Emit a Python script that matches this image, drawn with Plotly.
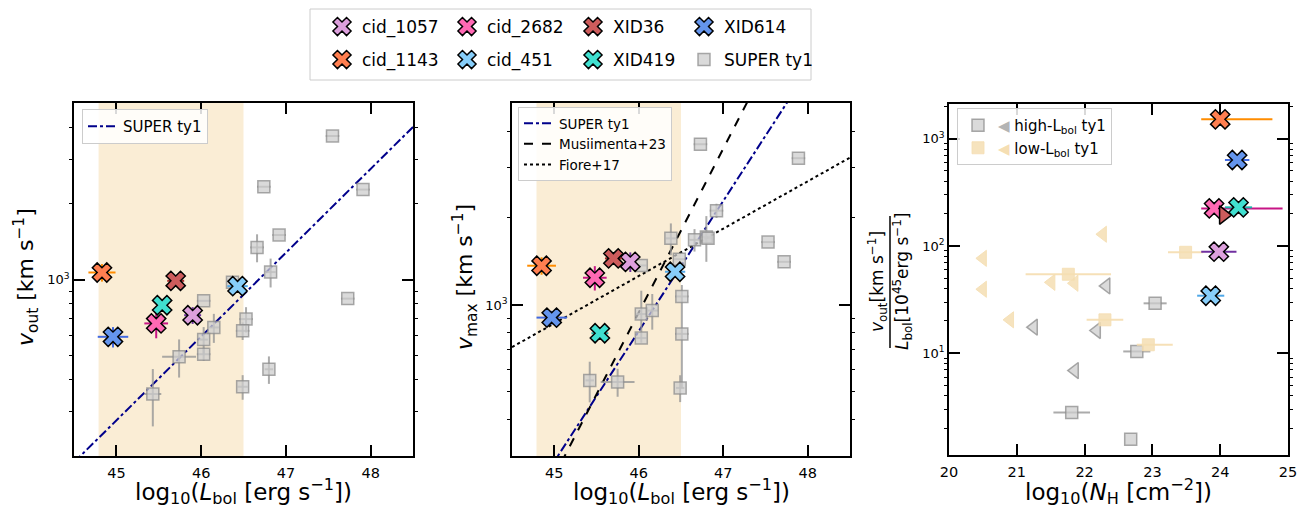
import numpy as np
import plotly.graph_objects as go

W, H = 1305, 509
FONT = "DejaVu Sans"

# ---------------- data ----------------
names = ["cid_1057", "cid_1143", "cid_2682", "cid_451", "XID36", "XID419", "XID614"]
face_colors = ["#DDA0DD", "#FF7F50", "#FF69B4", "#87CEFA", "#CD5C5C", "#40E0D0", "#6495ED"]
err_colors = ["#7030A0", "#FF8C00", "#C71585", "#4FA8E8", "#A52A2A", "#20B2AA", "#4169E1"]

# panel 1: log Lbol vs v_out
p1_x = [45.90, 44.83, 45.47, 46.43, 45.70, 45.54, 44.96]
p1_y = [722, 1066, 670, 941, 988, 791, 593]
p1_xerr = [0.10, 0.16, 0.14, 0.12, 0.10, 0.05, 0.18]
p1_yerr = [55, 85, 85, 30, 30, 0, 55]

# panel 2: log Lbol vs v_max
p2_x = [45.90, 44.85, 45.48, 46.43, 45.70, 45.54, 44.97]
p2_y = [1410, 1367, 1242, 1303, 1449, 798, 904]
p2_xerr = [0.05, 0.17, 0.14, 0.12, 0.10, 0.10, 0.18]
p2_yerr = [110, 95, 120, 30, 0, 0, 50]

# panel 3: log NH vs v_out / Lbol
p3_x = [23.98, 24.00, 23.91, 23.86, 24.05, 24.27, 24.25]
p3_y = [88.5, 1514, 224, 34.4, 194, 229, 633]
p3_xerr_plus = [0.26, 0.77, 1.01, 0.20, 0.0, 0.20, 0.18]
p3_xerr_minus = [0.26, 0.28, 0.19, 0.20, 0.0, 0.20, 0.18]
p3_symbols = ["x", "x", "x", "x", "triangle-right", "x", "x"]

# SUPER type-1 sample, panel 1
s1_x = [47.55, 46.74, 47.91, 46.92, 46.66, 46.82, 47.73, 46.03, 46.53, 46.49,
        46.15, 46.03, 46.03, 45.74, 46.80, 46.49, 45.43, 46.37]
s1_y = [3700, 2330, 2270, 1500, 1340, 1070, 840, 823, 697, 626,
        646, 578, 506, 494, 441, 376, 352, 975]
s1_xerr = [0.08, 0.08, 0.08, 0.08, 0.08, 0.06, 0.08, 0.08, 0.08, 0.08,
           0.06, 0.05, 0.08, 0.20, 0.05, 0.06, 0.10, 0.05]
s1_yerr = [0, 0, 0, 0, 170, 140, 0, 0, 80, 50,
           85, 70, 30, 85, 55, 42, 90, 0]

# SUPER type-1 sample, panel 2
s2_x = [46.73, 47.89, 46.92, 46.38, 46.66, 46.80, 47.53, 47.72, 46.48, 46.03,
        46.51, 46.03, 46.16, 46.51, 46.03, 45.42, 45.75, 46.49, 46.82]
s2_y = [3600, 3220, 2120, 1700, 1680, 1720, 1650, 1410, 1440, 1370,
        1070, 930, 956, 794, 768, 548, 541, 516, 1700]
s2_xerr = [0.08, 0.08, 0.08, 0.06, 0.06, 0.06, 0.08, 0.08, 0.06, 0.06,
           0.08, 0.06, 0.07, 0.08, 0.06, 0.05, 0.20, 0.05, 0.05]
s2_yerr_plus = [0, 0, 120, 215, 150, 310, 0, 0, 0, 0,
                0, 190, 135, 378, 0, 88, 60, 55, 0]
s2_yerr_minus = [0, 0, 120, 215, 150, 310, 0, 0, 0, 0,
                 0, 190, 135, 278, 0, 88, 60, 55, 0]

# panel 3 comparison samples
hi_sq_x = [23.04, 22.77, 21.81, 22.68]
hi_sq_y = [29.2, 10.4, 2.8, 1.58]
hi_sq_xerr = [0.17, 0.20, 0.27, 0.0]
hi_tri_x = [22.32, 21.25, 22.18, 21.855]
hi_tri_y = [42.4, 17.5, 16.3, 6.9]
lo_sq_x = [21.76, 23.49, 22.30, 22.94]
lo_sq_y = [54.5, 87.3, 20.5, 12.0]
lo_sq_xerr_plus = [0.63, 0.26, 0.27, 0.36]
lo_sq_xerr_minus = [0.63, 0.26, 0.27, 0.17]
lo_tri_x = [22.27, 20.50, 20.50, 21.51, 21.85, 20.90]
lo_tri_y = [128.6, 76.7, 39.5, 45.8, 44.9, 20.5]

# relations: log10(v) = a + b * (logL - 45)
fit_p1 = [2.442, 0.332]          # SUPER ty1 (panel 1)
fit_p2_super = [2.458, 0.451]    # SUPER ty1 (panel 2)
fit_musiimenta = [2.407, 0.567]  # Musiimenta+23
fit_fiore = [2.936, 0.164]       # Fiore+17

lum_band = [44.79, 46.50]

# ---------------- figure ----------------
fig = go.Figure()

GRAY_FACE = "rgba(205,205,205,0.75)"
GRAY_EDGE = "rgba(140,140,140,0.75)"
GRAY_ERR = "rgba(150,150,150,0.8)"
WHEAT_FACE = "rgba(245,222,179,0.85)"
WHEAT_ERR = "rgba(245,222,179,0.95)"

# shaded luminosity bands
for xr in ["x", "x2"]:
    fig.add_shape(type="rect", xref=xr, yref=("y" if xr == "x" else "y2") + " domain",
                  x0=lum_band[0], x1=lum_band[1], y0=0, y1=1,
                  fillcolor="rgba(245,222,179,0.55)", line=dict(width=0), layer="below")

lx = np.linspace(44.5, 48.5, 60)


def fit_line(p):
    return 10 ** (p[0] + p[1] * (lx - 45))


# panel 1 line
fig.add_trace(go.Scatter(x=lx, y=fit_line(fit_p1), mode="lines", name="SUPER ty1",
                         line=dict(color="#00008B", width=2, dash="dashdot"),
                         xaxis="x", yaxis="y", legend="legend9"))
# panel 2 lines
fig.add_trace(go.Scatter(x=lx, y=fit_line(fit_p2_super), mode="lines", name="SUPER ty1",
                         line=dict(color="#00008B", width=2, dash="dashdot"),
                         xaxis="x2", yaxis="y2", legend="legend10"))
fig.add_trace(go.Scatter(x=lx, y=fit_line(fit_musiimenta), mode="lines", name="Musiimenta+23",
                         line=dict(color="black", width=2, dash="dash"),
                         xaxis="x2", yaxis="y2", legend="legend10"))
fig.add_trace(go.Scatter(x=lx, y=fit_line(fit_fiore), mode="lines", name="Fiore+17",
                         line=dict(color="black", width=2, dash="dot"),
                         xaxis="x2", yaxis="y2", legend="legend10"))

# SUPER squares
fig.add_trace(go.Scatter(x=s1_x, y=s1_y, mode="markers", name="SUPER ty1",
                         marker=dict(symbol="square", size=12, color=GRAY_FACE,
                                     line=dict(color=GRAY_EDGE, width=1.5)),
                         error_x=dict(type="data", array=s1_xerr, color=GRAY_ERR, thickness=2, width=0),
                         error_y=dict(type="data", array=s1_yerr, color=GRAY_ERR, thickness=2, width=0),
                         xaxis="x", yaxis="y", legend="legend8"))
fig.add_trace(go.Scatter(x=s2_x, y=s2_y, mode="markers", name="SUPER ty1", showlegend=False,
                         marker=dict(symbol="square", size=12, color=GRAY_FACE,
                                     line=dict(color=GRAY_EDGE, width=1.5)),
                         error_x=dict(type="data", array=s2_xerr, color=GRAY_ERR, thickness=2, width=0),
                         error_y=dict(type="data", array=s2_yerr_plus, arrayminus=s2_yerr_minus,
                                      symmetric=False, color=GRAY_ERR, thickness=2, width=0),
                         xaxis="x2", yaxis="y2"))

# panel 3 comparison samples
fig.add_trace(go.Scatter(x=lo_tri_x, y=lo_tri_y, mode="markers", showlegend=False,
                         marker=dict(symbol="triangle-left", size=14, color=WHEAT_FACE,
                                     line=dict(color=WHEAT_FACE, width=1)),
                         xaxis="x3", yaxis="y3"))
fig.add_trace(go.Scatter(x=hi_tri_x, y=hi_tri_y, mode="markers", showlegend=False,
                         marker=dict(symbol="triangle-left", size=14, color=GRAY_FACE,
                                     line=dict(color=GRAY_EDGE, width=1.5)),
                         xaxis="x3", yaxis="y3"))
fig.add_trace(go.Scatter(x=hi_sq_x, y=hi_sq_y, mode="markers",
                         name='<span style="color:#b4b4b4">◀</span> high-L<sub>bol</sub> ty1',
                         marker=dict(symbol="square", size=12, color=GRAY_FACE,
                                     line=dict(color=GRAY_EDGE, width=1.5)),
                         error_x=dict(type="data", array=hi_sq_xerr, color=GRAY_ERR, thickness=2, width=0),
                         xaxis="x3", yaxis="y3", legend="legend11"))
fig.add_trace(go.Scatter(x=lo_sq_x, y=lo_sq_y, mode="markers",
                         name='<span style="color:#f5deb3">◀</span> low-L<sub>bol</sub> ty1',
                         marker=dict(symbol="square", size=12, color=WHEAT_FACE,
                                     line=dict(color=WHEAT_FACE, width=1)),
                         error_x=dict(type="data", array=lo_sq_xerr_plus, arrayminus=lo_sq_xerr_minus,
                                      symmetric=False, color=WHEAT_ERR, thickness=2, width=0),
                         xaxis="x3", yaxis="y3", legend="legend11"))

# colored targets
top_legend_ids = {"cid_1057": "legend", "cid_2682": "legend2", "XID36": "legend3", "XID614": "legend4",
                  "cid_1143": "legend5", "cid_451": "legend6", "XID419": "legend7"}
for i, n in enumerate(names):
    mk = dict(symbol="x", size=17, color=face_colors[i], line=dict(color="black", width=1.5))
    fig.add_trace(go.Scatter(x=[p1_x[i]], y=[p1_y[i]], mode="markers", name=n, marker=mk,
                             error_x=dict(type="data", array=[p1_xerr[i]], color=err_colors[i], thickness=2, width=0),
                             error_y=dict(type="data", array=[p1_yerr[i]], color=err_colors[i], thickness=2, width=0),
                             xaxis="x", yaxis="y", legend=top_legend_ids[n]))
    fig.add_trace(go.Scatter(x=[p2_x[i]], y=[p2_y[i]], mode="markers", name=n, marker=mk, showlegend=False,
                             error_x=dict(type="data", array=[p2_xerr[i]], color=err_colors[i], thickness=2, width=0),
                             error_y=dict(type="data", array=[p2_yerr[i]], color=err_colors[i], thickness=2, width=0),
                             xaxis="x2", yaxis="y2"))
    mk3 = dict(mk)
    mk3["symbol"] = p3_symbols[i]
    if p3_symbols[i] != "x":
        mk3["size"] = 16
    fig.add_trace(go.Scatter(x=[p3_x[i]], y=[p3_y[i]], mode="markers", name=n, marker=mk3, showlegend=False,
                             error_x=dict(type="data", array=[p3_xerr_plus[i]], arrayminus=[p3_xerr_minus[i]],
                                          symmetric=False, color=err_colors[i], thickness=2, width=0),
                             xaxis="x3", yaxis="y3"))

# ---------------- axes ----------------
def px_x(p):
    return p / W


def px_y(p):
    return 1 - p / H


def base_axis(**kw):
    d = dict(showline=True, linecolor="black", linewidth=1.5, mirror="ticks",
             ticks="inside", ticklen=11, tickwidth=1.8, tickcolor="black",
             showgrid=False, zeroline=False, automargin=False,
             tickfont=dict(family=FONT, size=14.5, color="black"))
    d.update(kw)
    return d


ydom = [px_y(456), px_y(103)]

minor_12 = [200, 300, 400, 500, 600, 700, 800, 900, 2000, 3000, 4000, 5000]
minor_3 = [m * d for d in [1, 10, 100, 1000] for m in range(2, 10)]
yfont = dict(family=FONT, size=13, color="black")

fig.update_layout(
    xaxis=base_axis(domain=[px_x(74), px_x(413)], range=[44.5, 48.5], tickvals=[45, 46, 47, 48],
                    anchor="y", ticklabelstandoff=3),
    yaxis=base_axis(domain=ydom, type="log", range=[np.log10(200), np.log10(5000)],
                    tickvals=[1000], ticktext=["10<sup>3</sup>"], anchor="x", tickfont=yfont,
                    minor=dict(tickmode="array", tickvals=minor_12, ticks="outside", ticklen=3,
                               tickwidth=1, tickcolor="black")),
    xaxis2=base_axis(domain=[px_x(512), px_x(850)], range=[44.5, 48.5], tickvals=[45, 46, 47, 48],
                     anchor="y2", ticklabelstandoff=3),
    yaxis2=base_axis(domain=ydom, type="log", range=[np.log10(300), np.log10(5000)],
                     tickvals=[1000], ticktext=["10<sup>3</sup>"], anchor="x2", tickfont=yfont,
                     minor=dict(tickmode="array", tickvals=minor_12, ticks="outside", ticklen=3,
                                tickwidth=1, tickcolor="black")),
    xaxis3=base_axis(domain=[px_x(949), px_x(1288)], range=[20, 25], tickvals=[20, 21, 22, 23, 24, 25],
                     anchor="y3", ticklabelstandoff=3),
    yaxis3=base_axis(domain=[px_y(455), px_y(104)], type="log", range=[0.052, 3.323],
                     tickvals=[10, 100, 1000], ticktext=["10<sup>1</sup>", "10<sup>2</sup>", "10<sup>3</sup>"],
                     anchor="x3", tickfont=yfont,
                     minor=dict(tickmode="array", tickvals=minor_3, ticks="outside", ticklen=3,
                                tickwidth=1, tickcolor="black")),
)

# ---------------- legends ----------------
def single_legend(cx, cy, size=17):
    return dict(x=px_x(cx - 11), y=px_y(cy), xanchor="left", yanchor="middle",
                bgcolor="rgba(0,0,0,0)", borderwidth=0,
                font=dict(family=FONT, size=size, color="black"))


legend_pos = {"legend": (333, 27), "legend2": (458, 27), "legend3": (584, 27), "legend4": (695, 27),
              "legend5": (333, 60), "legend6": (458, 60), "legend7": (584, 60), "legend8": (695, 60)}
leg_layout = {k: single_legend(*v) for k, v in legend_pos.items()}

leg_layout["legend9"] = dict(x=px_x(82), y=px_y(109), xanchor="left", yanchor="top",
                             bgcolor="rgba(255,255,255,0.85)", bordercolor="#cccccc", borderwidth=1,
                             font=dict(family=FONT, size=15, color="black"))
leg_layout["legend10"] = dict(x=px_x(518), y=px_y(107), xanchor="left", yanchor="top",
                              bgcolor="rgba(255,255,255,0.85)", bordercolor="#cccccc", borderwidth=1,
                              font=dict(family=FONT, size=13.5, color="black"))
leg_layout["legend11"] = dict(x=px_x(957), y=px_y(108), xanchor="left", yanchor="top",
                              bgcolor="rgba(255,255,255,0.85)", bordercolor="#cccccc", borderwidth=1,
                              font=dict(family=FONT, size=15, color="black"))
fig.update_layout(**leg_layout)

# frame around the top legend
fig.add_shape(type="rect", xref="paper", yref="paper", x0=px_x(310), x1=px_x(811),
              y0=px_y(80), y1=px_y(9), line=dict(color="#cccccc", width=1), fillcolor="white",
              layer="below")

# ---------------- axis titles ----------------
ann = []
xtitle = "log<sub>10</sub>(<i>L</i><sub>bol</sub> [erg s<sup>−1</sup>])"
ann.append(dict(x=px_x(243.5), y=px_y(491), text=xtitle, font_size=23))
ann.append(dict(x=px_x(681), y=px_y(491), text=xtitle, font_size=23))
ann.append(dict(x=px_x(1118.5), y=px_y(491), text="log<sub>10</sub>(<i>N</i><sub>H</sub> [cm<sup>−2</sup>])",
                font_size=23))
ann.append(dict(x=px_x(26), y=px_y(277), text="<i>v</i><sub>out</sub> [km s<sup>−1</sup>]", textangle=-90,
                font_size=22))
ann.append(dict(x=px_x(465), y=px_y(277), text="<i>v</i><sub>max</sub> [km s<sup>−1</sup>]", textangle=-90,
                font_size=22))
for a in ann:
    fs = a.pop("font_size")
    a.update(xref="paper", yref="paper", showarrow=False, xanchor="center", yanchor="middle",
             font=dict(family=FONT, size=fs, color="black"))
frac = [
    dict(x=px_x(877), y=px_y(282), text="<i>v</i><sub>out</sub>[km s<sup>−1</sup>]", textangle=-90),
    dict(x=px_x(902), y=px_y(282), text="<i>L</i><sub>bol</sub>[10<sup>45</sup>erg s<sup>−1</sup>]", textangle=-90),
]
for a in frac:
    a.update(xref="paper", yref="paper", showarrow=False, xanchor="center", yanchor="middle",
             font=dict(family=FONT, size=17, color="black"))
fig.update_layout(annotations=ann + frac)
fig.add_shape(type="line", xref="paper", yref="paper", x0=px_x(890), x1=px_x(890),
              y0=px_y(348), y1=px_y(216), line=dict(color="black", width=1.5))

fig.update_layout(width=W, height=H, autosize=False,
                  margin=dict(l=0, r=0, t=0, b=0, pad=0, autoexpand=False),
                  paper_bgcolor="white", plot_bgcolor="rgba(0,0,0,0)",
                  font=dict(family=FONT, color="black"))

fig.write_html("out.html", config={"displayModeBar": False},
               post_script="document.body.style.margin='0px';")
